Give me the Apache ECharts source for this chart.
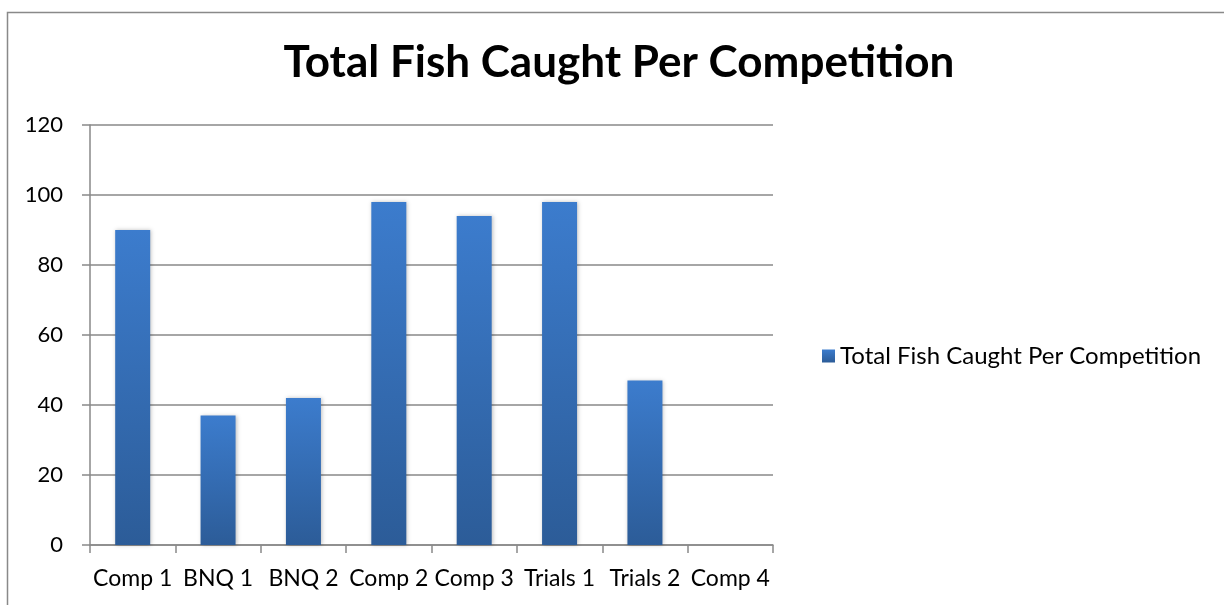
<!DOCTYPE html>
<html>
<head>
<meta charset="utf-8">
<script src="https://cdn.jsdelivr.net/npm/echarts@6/dist/echarts.min.js"></script>
<style>
  html, body { margin: 0; padding: 0; background: #fff; }
  #chart { width: 1224px; height: 605px; }
</style>
</head>
<body>
<div id="chart"></div>
<script>
const categories = ['Comp 1', 'BNQ 1', 'BNQ 2', 'Comp 2', 'Comp 3', 'Trials 1', 'Trials 2', 'Comp 4'];
const fishCaught = [90, 37, 42, 98, 94, 98, 47, null];
const yTicks = [0, 20, 40, 60, 80, 100, 120];
const seriesName = 'Total Fish Caught Per Competition';

const font = 'Lato, "Open Sans", sans-serif';
const chart = echarts.init(document.getElementById('chart'));

chart.setOption({
  animation: false,
  backgroundColor: '#fff',
  textStyle: { fontFamily: font },
  graphic: [{
    type: 'rect',
    shape: { x: 7.5, y: 12.5, width: 1300, height: 700 },
    style: { fill: 'none', stroke: '#898989', lineWidth: 1.5 },
    silent: true
  }],
  title: {
    text: 'Total Fish Caught Per Competition',
    left: 614,
    textAlign: 'center',
    top: 36,
    textStyle: { fontFamily: font, fontSize: 44, fontWeight: 'bold', color: '#000' }
  },
  legend: {
    data: [seriesName],
    left: 817,
    top: 339,
    icon: 'rect',
    itemWidth: 13,
    itemHeight: 13,
    itemGap: 8,
    textStyle: { fontFamily: font, fontSize: 24, color: '#000' }
  },
  grid: { left: 90, right: 451, top: 125, bottom: 60 },
  xAxis: {
    type: 'category',
    data: categories,
    axisLine: { lineStyle: { color: '#898989', width: 1.5 } },
    axisTick: { show: true, length: 8, alignWithLabel: false, lineStyle: { color: '#898989', width: 1.5 } },
    axisLabel: { color: '#000', fontSize: 23, margin: 22, interval: 0 }
  },
  yAxis: {
    type: 'value',
    min: yTicks[0],
    max: yTicks[yTicks.length - 1],
    interval: 20,
    axisLine: { show: true, lineStyle: { color: '#898989', width: 1.5 } },
    axisTick: { show: true, length: 8, lineStyle: { color: '#898989', width: 1.5 } },
    splitLine: { lineStyle: { color: '#898989', width: 1.5 } },
    axisLabel: { color: '#000', fontSize: 22, margin: 27 }
  },
  series: [{
    name: seriesName,
    type: 'bar',
    data: fishCaught,
    barWidth: 35,
    itemStyle: {
      color: new echarts.graphic.LinearGradient(0, 0, 0, 1, [
        { offset: 0, color: '#3c7ccd' },
        { offset: 1, color: '#2c5c98' }
      ]),
      shadowColor: 'rgba(0,0,0,0.25)',
      shadowBlur: 4,
      shadowOffsetX: 1
    }
  }]
});
</script>
</body>
</html>
